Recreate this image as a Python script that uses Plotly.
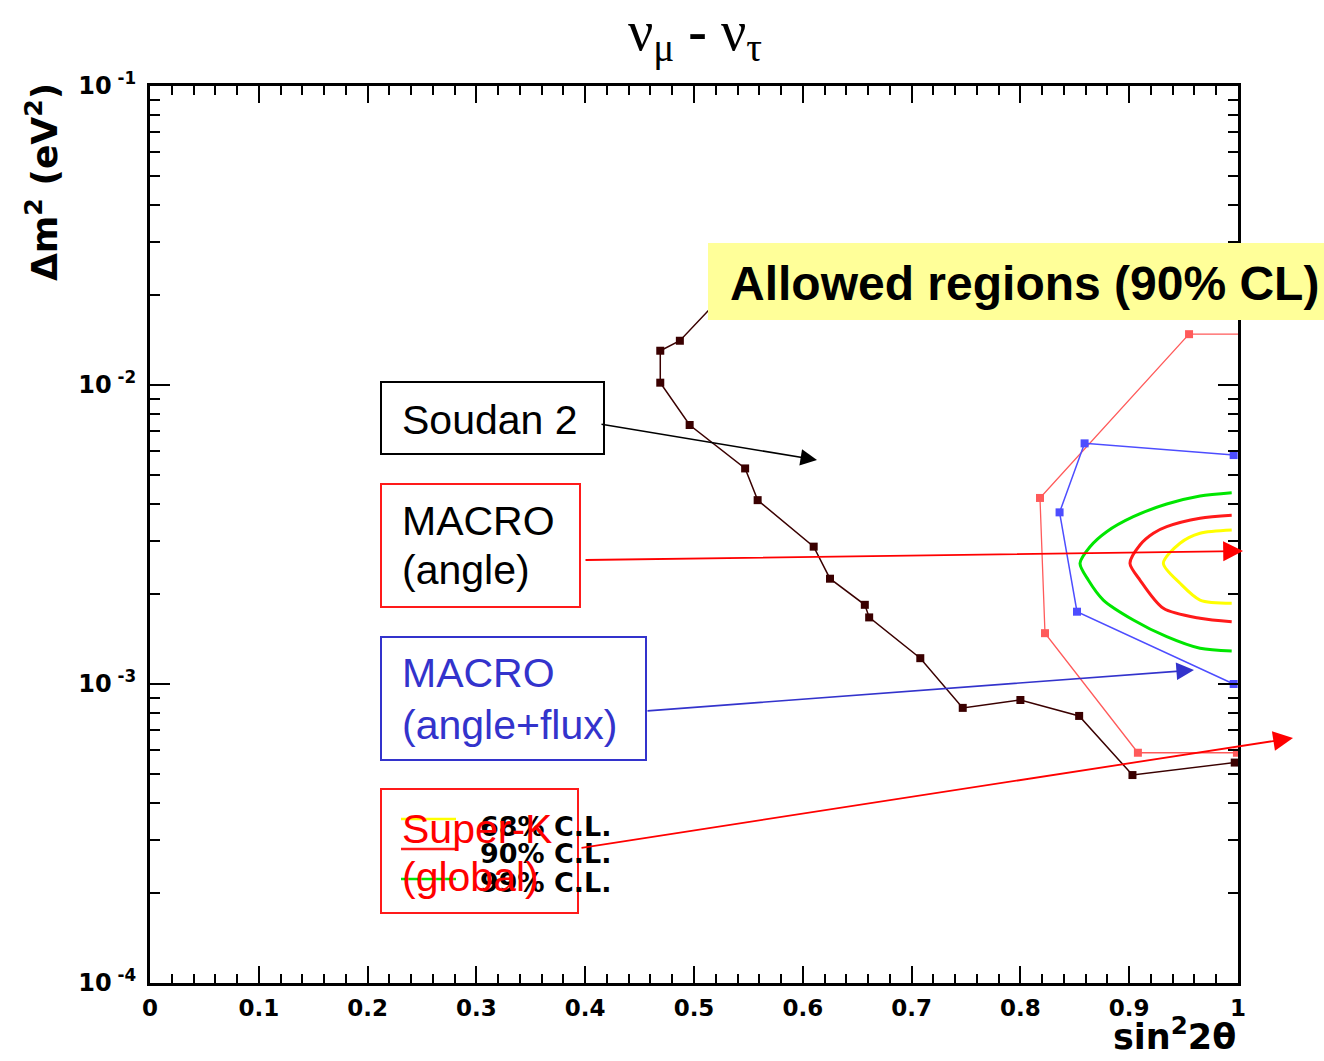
import plotly.graph_objects as go

# ---- data: sin^2(2theta) vs delta m^2 (eV^2) ----
soudan_x = [0.538, 0.487, 0.469, 0.469, 0.496, 0.547, 0.5585, 0.610, 0.625, 0.657,
            0.661, 0.708, 0.747, 0.800, 0.854, 0.903, 0.997]
soudan_y = [0.0221, 0.01406, 0.01302, 0.01018, 0.00735, 0.00526, 0.00412, 0.00288,
            0.00225, 0.00184, 0.00167, 0.00122, 0.000832, 0.000884, 0.000782,
            0.000496, 0.000546]

macro_angle_x = [1.004, 0.955, 0.818, 0.8226, 0.908, 0.999]
macro_angle_y = [0.01479, 0.01479, 0.00419, 0.001479, 0.000589, 0.000589]

macro_flux_x = [0.996, 0.859, 0.836, 0.852, 0.996]
macro_flux_y = [0.00583, 0.00638, 0.00375, 0.001745, 0.001]

sk99_x = [0.9942, 0.9651, 0.9345, 0.9038, 0.8793, 0.8640, 0.8548, 0.8624, 0.8762,
          0.9038, 0.9345, 0.9651, 0.9942]
sk99_y = [0.004363, 0.004254, 0.003999, 0.003627, 0.003231, 0.002878, 0.002533,
          0.002227, 0.001909, 0.001637, 0.001439, 0.001316, 0.001289]

sk90_x = [0.9942, 0.9651, 0.9345, 0.9222, 0.9099, 0.9007, 0.9099, 0.9314, 0.9651, 0.9942]
sk90_y = [0.003666, 0.003582, 0.003358, 0.003192, 0.002917, 0.002533, 0.002227,
          0.001791, 0.001658, 0.001616]

sk68_x = [0.9942, 0.9651, 0.9467, 0.9314, 0.9467, 0.9651, 0.9942]
sk68_y = [0.003274, 0.003192, 0.002956, 0.002533, 0.002172, 0.001909, 0.001862]

y_tick_vals = [1e-4, 1e-3, 1e-2, 1e-1]
y_exponents = ["-4", "-3", "-2", "-1"]
y_tick_text = ["10<sup>&nbsp;" + e + "</sup>" for e in y_exponents]
y_minor_vals = [m * 10.0 ** e for e in (-4, -3, -2) for m in range(2, 10)]

legend_labels = ["68% C.L.", "90% C.L.", "99% C.L."]

# ---- figure geometry ----
W, H = 1324, 1061
L, R, T, B = 150, 1238, 86, 983


def fx(p):
    """pixel column -> paper fraction of the plot frame"""
    return (p - L) / (R - L)


def fy(p):
    """pixel row -> paper fraction of the plot frame"""
    return (B - p) / (B - T)


fig = go.Figure()

fig.add_trace(go.Scatter(
    x=soudan_x, y=soudan_y, mode="lines+markers",
    line=dict(color="#3a0000", width=1.5),
    marker=dict(symbol="square", size=8, color="#3a0000"),
    cliponaxis=False, showlegend=False))

fig.add_trace(go.Scatter(
    x=macro_angle_x, y=macro_angle_y, mode="lines+markers",
    line=dict(color="#ff5a5a", width=1.3),
    marker=dict(symbol="square", size=8, color="#ff5a5a"),
    cliponaxis=False, showlegend=False))

fig.add_trace(go.Scatter(
    x=macro_flux_x, y=macro_flux_y, mode="lines+markers",
    line=dict(color="#4d4dff", width=1.5),
    marker=dict(symbol="square", size=8, color="#4d4dff"),
    cliponaxis=False, showlegend=False))

for xs, ys, col in [(sk99_x, sk99_y, "#00e600"),
                    (sk90_x, sk90_y, "#ff1a1a"),
                    (sk68_x, sk68_y, "#ffff00")]:
    fig.add_trace(go.Scatter(
        x=xs, y=ys, mode="lines",
        line=dict(color=col, width=3, shape="spline", smoothing=0.8),
        showlegend=False))

xtickfont = dict(family="DejaVu Sans", size=23, color="black", weight="bold")
ytickfont = dict(family="DejaVu Sans", size=24, color="black", weight="bold")

fig.update_xaxes(
    range=[0, 1], tickmode="linear", tick0=0, dtick=0.1,
    ticks="inside", ticklen=17, tickwidth=2, tickcolor="black",
    minor=dict(ticks="inside", dtick=0.02, ticklen=9, tickwidth=2, tickcolor="black"),
    showline=True, linewidth=3, linecolor="black", mirror="allticks",
    showgrid=False, zeroline=False, tickfont=xtickfont, ticklabelstandoff=2)

fig.update_yaxes(
    type="log", range=[-4, -1],
    tickmode="array", tickvals=y_tick_vals, ticktext=y_tick_text,
    ticks="inside", ticklen=20, tickwidth=2, tickcolor="black",
    minor=dict(ticks="inside", tickvals=y_minor_vals, ticklen=10, tickwidth=2,
               tickcolor="black"),
    showline=True, linewidth=3, linecolor="black", mirror="allticks",
    showgrid=False, zeroline=False, tickfont=ytickfont, ticklabelstandoff=6)

shapes = []
annotations = []


def box(x0, y0, x1, y1, color, fill="rgba(0,0,0,0)", width=2):
    shapes.append(dict(type="rect", xref="paper", yref="paper",
                       x0=fx(x0), x1=fx(x1), y0=fy(y1), y1=fy(y0),
                       line=dict(color=color, width=width), fillcolor=fill,
                       layer="above"))


def label(text, x, y, color="black", size=41, family="Liberation Sans", weight="normal",
          anchor="left"):
    annotations.append(dict(text=text, xref="paper", yref="paper", x=fx(x), y=fy(y),
                            xanchor=anchor, yanchor="middle", showarrow=False,
                            borderpad=0,
                            font=dict(family=family, size=size, color=color,
                                      weight=weight)))


def arrow(tail, tip, color, width=1.6):
    annotations.append(dict(text="", xref="paper", yref="paper",
                            x=fx(tip[0]), y=fy(tip[1]),
                            axref="pixel", ayref="pixel",
                            ax=tail[0] - tip[0], ay=tail[1] - tip[1],
                            showarrow=True, arrowhead=2, arrowsize=2.2,
                            arrowwidth=width, arrowcolor=color, standoff=0))


# Super-K legend (sits under the label text)
for yrow, col in [(819, "#ffff00"), (849, "#ff1a1a"), (879, "#00e600")]:
    shapes.append(dict(type="line", xref="paper", yref="paper",
                       x0=fx(401), x1=fx(456), y0=fy(yrow), y1=fy(yrow),
                       line=dict(color=col, width=2.5), layer="above"))
for txt, yrow in zip(legend_labels, [826, 853, 882]):
    label("<b>" + txt + "</b>", 479, yrow, size=27, family="DejaVu Sans")

# allowed-region banner
box(708, 243, 1326, 320, "#ffff99", fill="#ffff99", width=0)
label("Allowed regions (90% CL)", 729, 283, size=48, weight="bold")

# experiment labels
box(381, 382, 604, 454, "black")
label("Soudan 2", 401, 420)

box(381, 484, 580, 607, "#ff1a1a")
label("MACRO", 401, 521)
label("(angle)", 401, 570)

box(381, 637, 646, 760, "#3333cc")
label("MACRO", 401, 673, color="#3333cc")
label("(angle+flux)", 401, 725, color="#3333cc")

box(381, 789, 578, 913, "#ff1a1a")
label("Super-K", 401, 829, color="#ff0000")
label("(global)", 401, 877, color="#ff0000")

# pointers
arrow((600, 424), (817, 460), "black", 1.5)
arrow((584, 560), (1243, 551), "#ff0000", 1.8)
arrow((646, 711), (1194, 670), "#3333cc", 1.6)
arrow((580, 848), (1293, 738), "#ff0000", 1.8)

# axis titles
annotations.append(dict(text="Δm<sup>2</sup> (eV<sup>2</sup>)", xref="paper", yref="paper",
                        x=fx(42), y=fy(182), xanchor="center", yanchor="middle",
                        textangle=-90, showarrow=False,
                        font=dict(family="DejaVu Sans", size=36, color="black",
                                  weight="bold")))
annotations.append(dict(text="sin<sup>2</sup>2θ", xref="paper", yref="paper",
                        x=fx(1238), y=fy(1034), xanchor="right", yanchor="middle",
                        showarrow=False,
                        font=dict(family="DejaVu Sans", size=35, color="black",
                                  weight="bold")))

fig.update_layout(
    width=W, height=H,
    margin=dict(l=L, r=W - R, t=T, b=H - B),
    paper_bgcolor="white", plot_bgcolor="white",
    title=dict(text="ν<sub>μ</sub> <b>-</b> ν<sub>τ</sub>",
               x=fx(695), xref="paper", xanchor="center",
               y=1 - 30 / H, yref="container", yanchor="middle",
               font=dict(family="Liberation Serif", size=56, color="black")),
    shapes=shapes, annotations=annotations,
)

fig.write_html("out.html")
